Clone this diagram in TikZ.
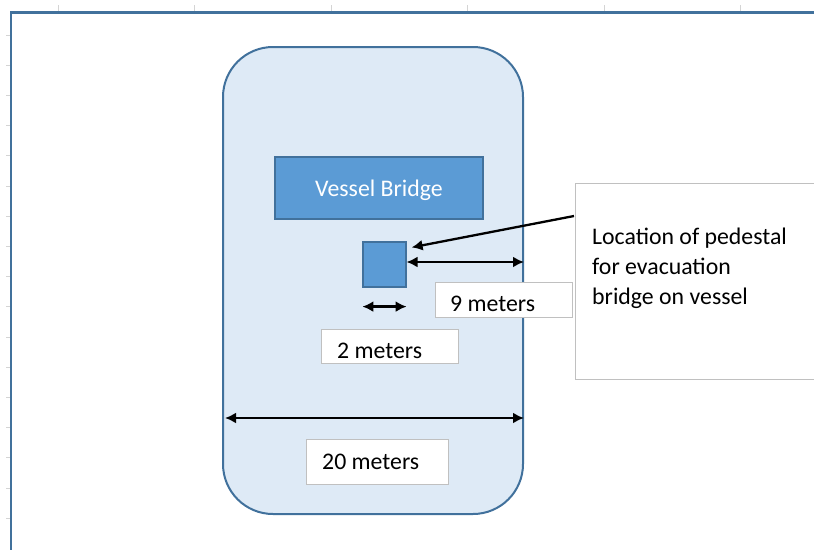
\documentclass[tikz,border=0pt]{standalone}
\usepackage{fontspec}
\setmainfont{Carlito}
\usetikzlibrary{arrows.meta,calc}

\definecolor{frameblue}{HTML}{41719C}
\definecolor{hullfill}{HTML}{DEEAF6}
\definecolor{accent}{HTML}{5B9BD5}
\definecolor{boxgrey}{HTML}{C0C0C0}
\definecolor{tickgrey}{HTML}{D4D4D4}

\tikzset{
  x=1pt, y=-1pt,
  txt/.style={font=\fontsize{23.8}{30}\selectfont, inner sep=0pt},
  hull/.style={draw=frameblue, line width=2pt, fill=hullfill, rounded corners=50pt,
    minimum width=300pt, minimum height=467pt, inner sep=0pt},
  bluebox/.style={draw=frameblue, line width=1.2pt, fill=accent, inner sep=0pt},
  labelbox/.style={draw=boxgrey, line width=0.9pt, fill=white, inner sep=0pt},
  dim/.style={line width=2.3pt, {Latex[length=11pt,width=11pt]}-{Latex[length=11pt,width=11pt]}},
  pointer/.style={line width=2.3pt, -{Latex[length=11pt,width=11pt]}},
}

\begin{document}
\begin{tikzpicture}
\useasboundingbox (0,0) rectangle (814,549);
\fill[white] (0,0) rectangle (814,549);

% sheet grid marks
\foreach \gx in {58,194.5,331,467.5,604,740.5}
  \draw[tickgrey, line width=0.8pt] (\gx,5) -- (\gx,11);
\foreach \gy in {35,65.2,95.4,125.6,155.8,186,216.2,246.4,276.6,306.8,337,367.2,397.4,427.6,457.8,488,518.2}
  \draw[tickgrey, line width=0.8pt] (6,\gy) -- (10,\gy);

% outer frame
\draw[frameblue, line width=2.6pt] (11,549.5) -- (11,12.3) -- (815,12.3);

% hull of the vessel
\node[hull] (vessel) at (373,280.5) {};

% bridge house
\node[bluebox, minimum width=208pt, minimum height=62pt] (bridge) at (379,188) {};
\node[txt, text=white] (bridgetxt) at (379,190) {Vessel Bridge};

% pedestal
\node[bluebox, minimum width=43pt, minimum height=45pt] (ped) at (384.5,264.5) {};

% 9 m dimension
\coordinate (a9) at (406.5,262);
\coordinate (b9) at (vessel.east |- a9);
\draw[dim] (a9) -- (b9);
\node[labelbox, minimum width=137pt, minimum height=35pt] (lab9) at (503.5,299.5) {};
\node[txt, anchor=base west] (txt9) at (450,311) {9 meters};

% 2 m dimension
\draw[dim] ($(ped.south west)+(0,19)$) -- ($(ped.south east)+(0,19)$);
\node[labelbox, minimum width=137pt, minimum height=34pt] (lab2) at (389.5,346) {};
\node[txt, anchor=base west] (txt2) at (337,358) {2 meters};

% 20 m dimension
\draw[dim] ($(vessel.west)+(3,137.5)$) -- ($(vessel.east)+(0,137.5)$);
\node[labelbox, minimum width=142pt, minimum height=45pt] (lab20) at (377,461.5) {};
\node[txt, anchor=base west] (txt20) at (322,469) {20 meters};

% callout (base of a multi-line node is the baseline of its last line)
\node[labelbox, minimum width=240pt, minimum height=196pt] (call) at (695,281) {};
\node[txt, anchor=base west, align=left] (calltxt) at (592,304)
  {Location of pedestal\\for evacuation\\bridge on vessel};
\coordinate (ptr) at (574,216);
\draw[pointer] (ptr) -- ($(ped.north east)+(5,6)$);
\end{tikzpicture}
\end{document}
